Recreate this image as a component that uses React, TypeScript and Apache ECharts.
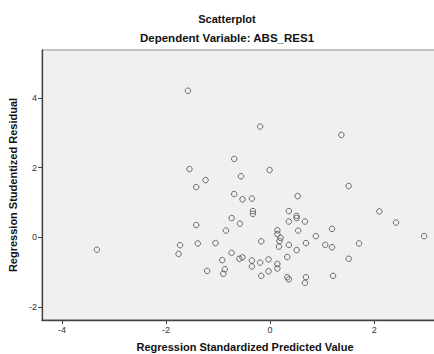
import React, { useEffect, useRef } from "react";
import * as echarts from "echarts";

const predictedValues: number[] = [
  -1.58, -0.19, 1.37, 1.51, -0.69, -1.55, -0.01, -1.24, -0.56, -1.42,
  -0.69, -0.53, -0.35, 0.53, -0.74, -0.58, -1.42, -0.85, -1.73, -1.76,
  -1.39, -1.05, -0.74, -0.92, -0.59, -0.53, -0.87, -0.9, -1.21, -3.33,
  -0.33, -0.33, 0.36, 0.51, 0.51, 0.67, 0.36, 1.19, 0.54, 0.14,
  0.14, 0.2, 0.18, -0.17, 0.36, 0.69, 0.88, 1.06, 1.19, 0.17,
  0.51, -0.35, -0.35, -0.19, -0.03, 0.33, 0.14, 0.14, -0.03, -0.17,
  0.33, 0.36, 0.69, 0.67, 1.21, 2.1, 2.42, 2.96, 1.71, 1.51,
];
const studentizedResiduals: number[] = [
  4.21, 3.18, 2.94, 1.47, 2.25, 1.96, 1.93, 1.64, 1.75, 1.44,
  1.24, 1.09, 1.11, 1.18, 0.55, 0.39, 0.35, 0.19, -0.23, -0.48,
  -0.18, -0.17, -0.45, -0.66, -0.62, -0.58, -0.92, -1.05, -0.97, -0.36,
  0.75, 0.67, 0.75, 0.61, 0.55, 0.45, 0.45, 0.24, 0.19, 0.2,
  0.09, -0.02, -0.11, -0.12, -0.22, -0.17, 0.03, -0.22, -0.29, -0.27,
  -0.37, -0.67, -0.84, -0.73, -0.64, -0.57, -0.77, -0.9, -0.98, -1.11,
  -1.15, -1.21, -1.15, -1.31, -1.11, 0.74, 0.42, 0.03, -0.18, -0.62,
];
const xTickValues: number[] = [-4, -2, 0, 2];
const yTickValues: number[] = [-2, 0, 2, 4];

const titleText = "Scatterplot";
const subtitleText = "Dependent Variable: ABS_RES1";
const xAxisName = "Regression Standardized Predicted Value";
const yAxisName = "Regression Studentized Residual";

export default function App() {
  const ref = useRef<HTMLDivElement>(null);
  useEffect(() => {
    if (!ref.current) return;
    const chart = echarts.init(ref.current, undefined, { renderer: "svg" });
    const points = predictedValues.map((x, i) => [x, studentizedResiduals[i]]);
    const font = "'Liberation Sans', Arial, sans-serif";
    chart.setOption({
      animation: false,
      backgroundColor: "#ffffff",
      graphic: [
        {
          type: "text",
          x: 227,
          y: 19,
          style: {
            text: titleText,
            fontFamily: font,
            fontWeight: "bold",
            fontSize: 11,
            fill: "#111",
            textAlign: "center",
            textVerticalAlign: "middle",
          },
        },
        {
          type: "text",
          x: 227,
          y: 38,
          style: {
            text: subtitleText,
            fontFamily: font,
            fontWeight: "bold",
            fontSize: 11.5,
            fill: "#111",
            textAlign: "center",
            textVerticalAlign: "middle",
          },
        },
      ],
      grid: {
        left: 42,
        top: 50,
        right: -14,
        bottom: 34,
        outerBoundsMode: "none",
        containLabel: false,
        show: true,
        backgroundColor: "#f0f0f0",
        borderColor: "#8c8c8c",
        borderWidth: 1,
      },
      xAxis: {
        type: "value",
        min: -4.385,
        max: 3.42,
        name: xAxisName,
        nameLocation: "middle",
        nameGap: 21,
        nameTextStyle: { fontFamily: font, fontWeight: "bold", fontSize: 11, color: "#111" },
        splitLine: { show: false },
        axisLine: { show: true, onZero: false, lineStyle: { color: "#444", width: 1.3 } },
        axisTick: { show: true, customValues: xTickValues, length: 4, lineStyle: { color: "#444" } },
        axisLabel: {
          customValues: xTickValues,
          fontFamily: font,
          fontSize: 9,
          color: "#333",
          margin: 5,
        },
      },
      yAxis: {
        type: "value",
        min: -2.38,
        max: 5.38,
        name: yAxisName,
        nameLocation: "middle",
        nameGap: 18,
        nameTextStyle: { fontFamily: font, fontWeight: "bold", fontSize: 11, color: "#111" },
        splitLine: { show: false },
        axisLine: { show: true, onZero: false, lineStyle: { color: "#444", width: 1.3 } },
        axisTick: { show: true, customValues: yTickValues, length: 4, lineStyle: { color: "#444" } },
        axisLabel: {
          customValues: yTickValues,
          fontFamily: font,
          fontSize: 9,
          color: "#333",
          margin: 5,
        },
      },
      series: [
        {
          type: "scatter",
          data: points,
          symbol: "circle",
          symbolSize: 5.5,
          itemStyle: { color: "rgba(0,0,0,0)", borderColor: "#4a4a4a", borderWidth: 1 },
          emphasis: { disabled: true },
        },
      ],
    });
    return () => chart.dispose();
  }, []);
  return (
    <div
      ref={ref}
      style={{ position: "absolute", left: 0, top: 0, width: 434, height: 354 }}
    />
  );
}
